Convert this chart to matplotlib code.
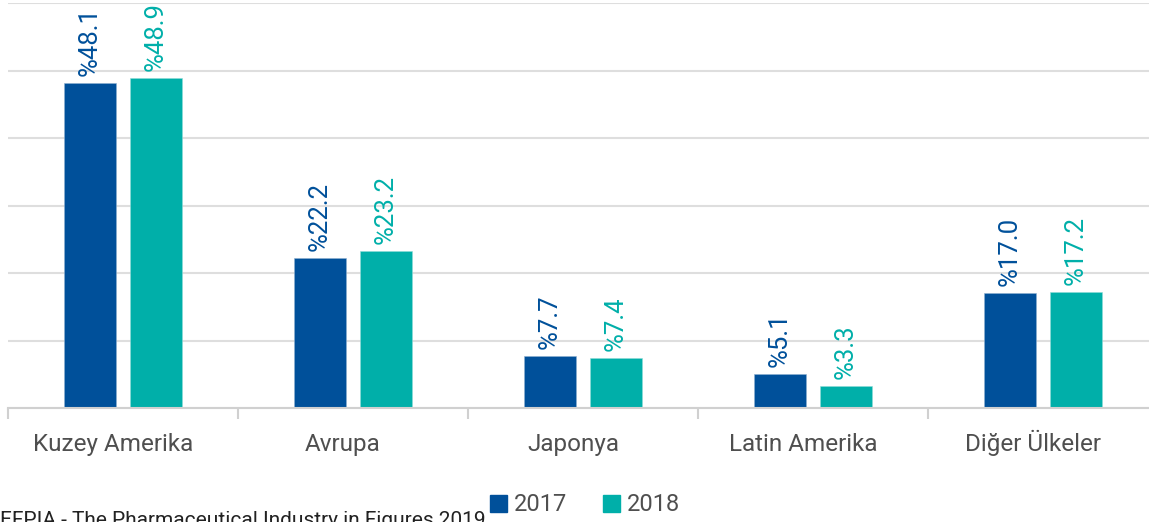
import matplotlib.pyplot as plt
import matplotlib.transforms as mtransforms
import numpy as np
from matplotlib.patches import Patch

plt.rcParams['font.family'] = ['Roboto', 'DejaVu Sans']

regions = ['Kuzey Amerika', 'Avrupa', 'Japonya', 'Latin Amerika', 'Diğer Ülkeler']
years = ['2017', '2018']
share_2017 = [48.1, 22.2, 7.7, 5.1, 17.0]
share_2018 = [48.9, 23.2, 7.4, 3.3, 17.2]
source = 'EFPIA - The Pharmaceutical Industry in Figures 2019'

c17 = '#00509a'
c18 = '#00afa9'
grid_c = '#dedede'
text_c = '#4f4f4f'

fig = plt.figure(figsize=(11.49, 5.22), dpi=100)
ax = fig.add_axes([8 / 1149, 114 / 522, 1150 / 1149, 405 / 522])

x = np.arange(len(regions))
w = 0.222
off = 0.1435
b1 = ax.bar(x - off, share_2017, w, color=c17, edgecolor='#8fb0d0', linewidth=0.4, zorder=3)
b2 = ax.bar(x + off, share_2018, w, color=c18, edgecolor='#8fdcd8', linewidth=0.4, zorder=3)

# value labels, rotated, same colour as the bar
for bars, vals, col in [(b1, share_2017, c17), (b2, share_2018, c18)]:
    for rect, v in zip(bars, vals):
        ax.annotate('%' + f'{v:.1f}', (rect.get_x() + rect.get_width() / 2, v),
                    xytext=(0, 5), textcoords='offset points',
                    rotation=90, ha='center', va='bottom',
                    color=col, fontsize=18.5)

ax.set_xlim(-0.5, len(regions) - 0.5)
ax.set_ylim(0, 60)
ax.set_yticks(np.arange(0, 61, 10))
ax.yaxis.grid(True, color=grid_c, linewidth=1.5, zorder=0)
ax.tick_params(axis='y', left=False, labelleft=False)

ax.set_xticks(x)
ax.set_xticklabels(regions, fontsize=17.5, color=text_c)
ax.set_xticks(np.arange(-0.5, len(regions)), minor=True)
ax.tick_params(axis='x', which='major', length=0, pad=31)
ax.tick_params(axis='x', which='minor', length=8, width=1.5, color='#d0d0d0')
shift = mtransforms.ScaledTranslation(-10 / 100, 0, fig.dpi_scale_trans)
for lab in ax.get_xticklabels():
    lab.set_verticalalignment('baseline')
    lab.set_transform(lab.get_transform() + shift)

for s in ['top', 'right', 'left']:
    ax.spines[s].set_visible(False)
ax.spines['bottom'].set_color('#d0d0d0')
ax.spines['bottom'].set_linewidth(1.5)
ax.spines['bottom'].set_zorder(4)

handles = [Patch(color=c17), Patch(color=c18)]
fig.legend(handles, years, loc='center', bbox_to_anchor=(585 / 1149, 1 - 505 / 522),
           ncol=2, frameon=False, fontsize=17, handlelength=0.72, handleheight=0.72,
           handletextpad=0.3, columnspacing=1.5, labelcolor=text_c)

fig.text(0.0, 1 - 511 / 522, source, ha='left', va='top', fontsize=15, color='#222222')

fig.savefig('out.png', dpi=100)
